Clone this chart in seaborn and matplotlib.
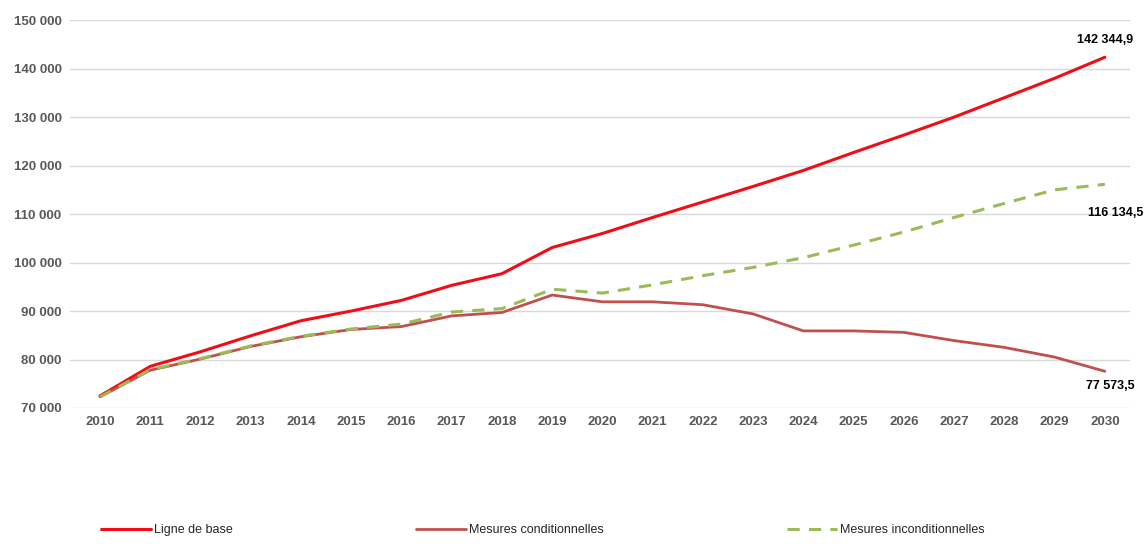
import numpy as np
import pandas as pd
import matplotlib
matplotlib.use("Agg")
import matplotlib.pyplot as plt
import matplotlib.ticker as mticker
import seaborn as sns

# ---------------------------------------------------------------
# Données
# ---------------------------------------------------------------
annees = list(range(2010, 2031))

ligne_de_base = [72500, 78600, 81600, 84900, 88000, 90000, 92200, 95300, 97700, 103100,
                 106000, 109300, 112500, 115700, 119000, 122700, 126300, 130000, 134000,
                 138000, 142344.9]
mesures_conditionnelles = [72300, 77800, 80100, 82700, 84700, 86200, 86800, 89000, 89700,
                           93300, 91900, 91900, 91300, 89400, 85900, 85900, 85600, 83900,
                           82500, 80500, 77573.5]
mesures_inconditionnelles = [72300, 77900, 80200, 82800, 84800, 86300, 87300, 89800, 90500,
                             94500, 93700, 95400, 97300, 99000, 101000, 103600, 106300,
                             109300, 112200, 115000, 116134.5]

etiquettes_fin = ["142 344,9", "116 134,5", "77 573,5"]

df = pd.DataFrame({
    'annee': annees,
    'Ligne de base': ligne_de_base,
    'Mesures conditionnelles': mesures_conditionnelles,
    'Mesures inconditionnelles': mesures_inconditionnelles,
})

sns.set_style("white")
plt.rcParams['font.family'] = ['Liberation Sans Narrow', 'Liberation Sans', 'DejaVu Sans']

fig = plt.figure(figsize=(11.46, 5.44), dpi=100)
ax = fig.add_axes([0.061, 0.25, 0.925, 0.713])

sns.lineplot(data=df, x='annee', y='Ligne de base', ax=ax, color='#F20D16', linewidth=2.2,
             label='Ligne de base')
sns.lineplot(data=df, x='annee', y='Mesures conditionnelles', ax=ax, color='#C0504D',
             linewidth=2.0, label='Mesures conditionnelles')
sns.lineplot(data=df, x='annee', y='Mesures inconditionnelles', ax=ax, color='#9BBB59',
             linewidth=2.2, linestyle=(0, (4, 3)), label='Mesures inconditionnelles')

ax.set_xlim(2009.4, 2030.5)
ax.set_ylim(70000, 150000)
ax.set_xticks(annees)
ax.yaxis.set_major_locator(mticker.MultipleLocator(10000))
ax.yaxis.set_major_formatter(mticker.FuncFormatter(lambda v, _: f'{v:,.0f}'.replace(',', ' ')))
ax.set_xlabel('')
ax.set_ylabel('')
ax.grid(axis='y', color='#D9D9D9', linewidth=1)
ax.set_axisbelow(True)
for s in ax.spines.values():
    s.set_visible(False)
ax.tick_params(axis='both', length=0, labelsize=9.5, labelcolor='#595959', pad=6)
for t in ax.get_xticklabels() + ax.get_yticklabels():
    t.set_fontweight('bold')

# étiquettes en fin de série
ax.annotate(etiquettes_fin[0], (annees[-1], ligne_de_base[-1]), xytext=(0, 8),
            textcoords='offset points', ha='center', va='bottom', fontsize=9,
            fontweight='bold', color='black')
ax.annotate(etiquettes_fin[1], (annees[-1], mesures_inconditionnelles[-1]), xytext=(28, -16),
            textcoords='offset points', ha='right', va='top', fontsize=9,
            fontweight='bold', color='black')
ax.annotate(etiquettes_fin[2], (annees[-1], mesures_conditionnelles[-1]), xytext=(4, -6),
            textcoords='offset points', ha='center', va='top', fontsize=9,
            fontweight='bold', color='black')

handles, labels = ax.get_legend_handles_labels()
ax.get_legend().remove()
fig.legend(handles, labels, loc='center left', bbox_to_anchor=(0.078, 0.025), ncol=3,
           frameon=False, fontsize=9, handlelength=4.0, handletextpad=0.3,
           columnspacing=14.6)

fig.savefig('out.png', dpi=100)
